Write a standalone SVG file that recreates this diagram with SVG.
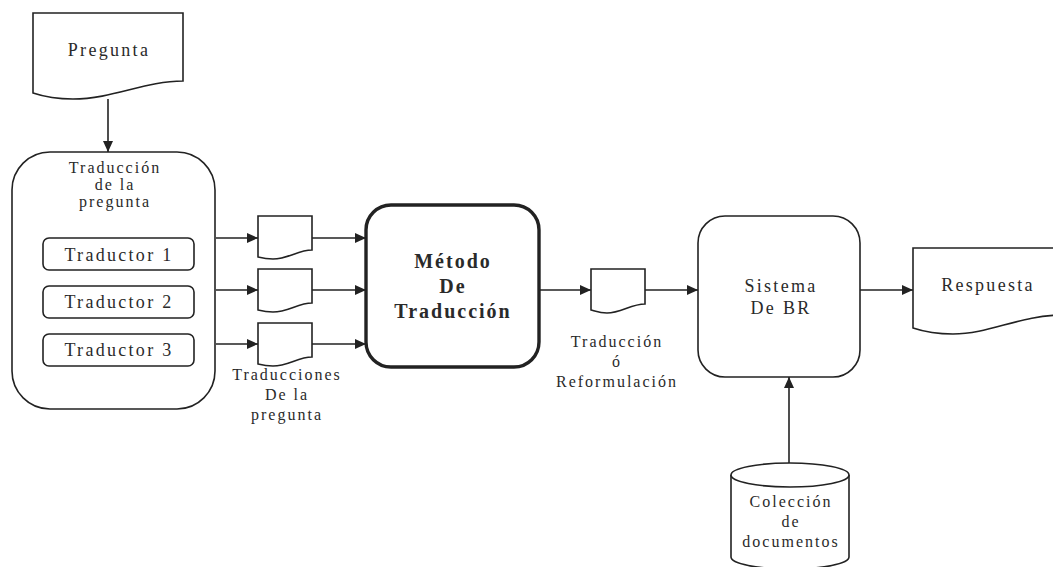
<svg xmlns="http://www.w3.org/2000/svg" width="1053" height="567" viewBox="0 0 1053 567">
<style>
.s{fill:#fff;stroke:#222;stroke-width:1.6}
.b{fill:#fff;stroke:#222;stroke-width:3.4}
.c{fill:none;stroke:#222;stroke-width:1.6}
text{font-family:"Liberation Serif","Times New Roman",serif;fill:#2a2a2a;text-anchor:middle}
.t16{font-size:16px;letter-spacing:2px}
.t18{font-size:18px;letter-spacing:2.3px}
.tb{font-size:20px;font-weight:bold;letter-spacing:2px}
</style>
<defs>
<marker id="ah" markerUnits="userSpaceOnUse" markerWidth="12" markerHeight="10" refX="11" refY="5" orient="auto">
<path d="M0,0 L11,5 L0,10 Z" fill="#222"/>
</marker>
</defs>
<rect width="1053" height="567" fill="#fff"/>
<g id="connectors">
<line class="c" x1="108" y1="99" x2="108" y2="152" marker-end="url(#ah)"/>
<line class="c" x1="216" y1="238" x2="258" y2="238" marker-end="url(#ah)"/>
<line class="c" x1="216" y1="290" x2="258" y2="290" marker-end="url(#ah)"/>
<line class="c" x1="216" y1="344" x2="258" y2="344" marker-end="url(#ah)"/>
<line class="c" x1="312" y1="238" x2="366" y2="238" marker-end="url(#ah)"/>
<line class="c" x1="312" y1="290" x2="366" y2="290" marker-end="url(#ah)"/>
<line class="c" x1="312" y1="344" x2="366" y2="344" marker-end="url(#ah)"/>
<line class="c" x1="540" y1="290" x2="591" y2="290" marker-end="url(#ah)"/>
<line class="c" x1="645" y1="290" x2="698" y2="290" marker-end="url(#ah)"/>
<line class="c" x1="860" y1="290" x2="913" y2="290" marker-end="url(#ah)"/>
<line class="c" x1="789" y1="463" x2="789" y2="377" marker-end="url(#ah)"/>
</g>
<g id="pregunta">
<path class="s" d="M33,13 H183 V81 C145,81 113,99 73,99 C55,99 42,96 33,93 Z"/>
<text class="t18" x="109" y="56">Pregunta</text>
</g>
<g id="traduccion-pregunta">
<rect class="s" x="12" y="152" width="203" height="257" rx="38"/>
<text class="t16" x="115" y="173">Traducción</text>
<text class="t16" x="115" y="190">de la</text>
<text class="t16" x="115" y="207">pregunta</text>
</g>
<g id="traductor1">
<rect class="s" x="43" y="238" width="151" height="32" rx="6"/>
<text class="t18" x="119" y="261">Traductor 1</text>
</g>
<g id="traductor2">
<rect class="s" x="43" y="286" width="151" height="32" rx="6"/>
<text class="t18" x="119" y="308">Traductor 2</text>
</g>
<g id="traductor3">
<rect class="s" x="43" y="334" width="151" height="32" rx="6"/>
<text class="t18" x="119" y="356">Traductor 3</text>
</g>
<g id="doc1">
<path class="s" d="M258,216 H312 V250 C298,250 288,259 273,259 C266,259 262,258 258,257 Z"/>
</g>
<g id="doc2">
<path class="s" d="M258,269 H312 V303 C298,303 288,312 273,312 C266,312 262,311 258,310 Z"/>
</g>
<g id="doc3">
<path class="s" d="M258,323 H312 V357 C298,357 288,366 273,366 C266,366 262,365 258,364 Z"/>
<text class="t16" x="287" y="380">Traducciones</text>
<text class="t16" x="287" y="400">De la</text>
<text class="t16" x="287" y="420">pregunta</text>
</g>
<g id="metodo">
<rect class="b" x="366" y="205" width="173" height="162" rx="25"/>
<text class="tb" x="453" y="268">Método</text>
<text class="tb" x="453" y="293">De</text>
<text class="tb" x="453" y="318">Traducción</text>
</g>
<g id="doc4">
<path class="s" d="M591,269 H645 V304 C631,304 621,313 607,313 C600,313 595,311 591,310 Z"/>
<text class="t16" x="617" y="347">Traducción</text>
<text class="t16" x="617" y="367">ó</text>
<text class="t16" x="617" y="387">Reformulación</text>
</g>
<g id="sistema">
<rect class="s" x="698" y="216" width="162" height="161" rx="27"/>
<text class="t18" x="781" y="292">Sistema</text>
<text class="t18" x="781" y="314">De BR</text>
</g>
<g id="respuesta">
<path class="s" d="M913,248 H1063 V315 C1020,315 990,334 953,334 C935,334 922,331 913,328 Z"/>
<text class="t18" x="988" y="291">Respuesta</text>
</g>
<g id="coleccion">
<path class="s" d="M731,475 V557 A59,12 0 0 0 849,557 V475"/>
<ellipse class="s" cx="790" cy="475" rx="59" ry="12"/>
<text class="t16" x="791" y="507">Colección</text>
<text class="t16" x="791" y="527">de</text>
<text class="t16" x="791" y="547">documentos</text>
</g>
</svg>
